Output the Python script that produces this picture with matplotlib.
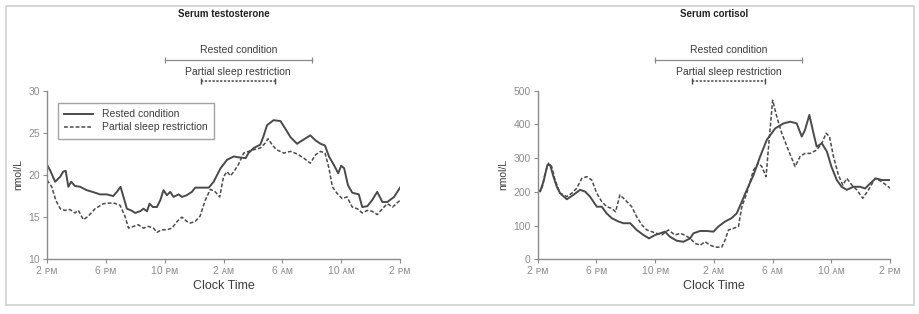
import numpy as np
import matplotlib.pyplot as plt
import matplotlib.transforms as mtransforms
from matplotlib.patches import Rectangle

plt.rcParams['font.family'] = ['Liberation Sans', 'DejaVu Sans']

# hours after 2 PM
hours_ticks = [0, 4, 8, 12, 16, 20, 24]
tick_labels = ['2 ᴘᴍ', '6 ᴘᴍ', '10 ᴘᴍ', '2 ᴀᴍ', '6 ᴀᴍ', '10 ᴀᴍ', '2 ᴘᴍ']

rested_sleep = [8, 18]
restricted_sleep = [10.5, 15.5]

# Serum testosterone, nmol/L
testo_rest_h = [0, 0.2, 0.55, 0.9, 1.1, 1.27, 1.45, 1.64, 1.9, 2.25, 2.7, 3.27, 3.6, 4.06,
                4.5, 4.75, 5.0, 5.2, 5.43, 5.72, 6.0, 6.33, 6.56, 6.8, 6.97, 7.2, 7.47,
                7.7, 7.92, 8.15, 8.38, 8.6, 8.95, 9.17, 9.5, 9.85, 10.08, 10.4, 11.0,
                11.33, 11.8, 12.24, 12.7, 13.0, 13.5, 13.7, 14.05, 14.5, 14.7, 14.96,
                15.4, 15.87, 16.2, 16.55, 17.0, 17.35, 17.9, 18.26, 18.6, 18.9, 19.17,
                19.5, 19.8, 20.0, 20.2, 20.46, 20.75, 21.2, 21.43, 21.78, 22.1, 22.45,
                22.8, 23.14, 23.6, 24]
testo_rest = [21.2, 20.6, 19.2, 19.8, 20.4, 20.5, 18.6, 19.2, 18.7, 18.6, 18.2, 17.9, 17.7,
              17.7, 17.5, 18.0, 18.6, 17.4, 16.0, 15.8, 15.5, 15.7, 16.0, 15.7, 16.6, 16.2,
              16.2, 17.0, 18.2, 17.6, 18.0, 17.4, 17.7, 17.4, 17.6, 18.0, 18.5, 18.5, 18.5,
              19.2, 20.8, 21.8, 22.2, 22.1, 22.0, 22.6, 23.2, 23.6, 24.5, 25.9, 26.5, 26.4,
              25.5, 24.5, 23.7, 24.1, 24.7, 24.1, 23.7, 23.5, 22.2, 21.2, 20.2, 21.1, 20.8,
              18.8, 17.9, 17.7, 16.2, 16.3, 17.0, 18.0, 16.8, 16.8, 17.4, 18.5]

testo_psr_h = [0, 0.32, 0.6, 0.9, 1.2, 1.56, 1.9, 2.13, 2.47, 2.8, 3.27, 3.84, 4.5, 4.97,
               5.3, 5.54, 5.88, 6.2, 6.56, 6.9, 7.24, 7.47, 7.8, 8.15, 8.5, 8.85, 9.17,
               9.5, 9.74, 10.08, 10.4, 10.76, 11.1, 11.44, 11.74, 12.0, 12.24, 12.47,
               12.7, 13.0, 13.37, 13.7, 14.05, 14.5, 14.85, 15.03, 15.3, 15.6, 16.1,
               16.55, 17.0, 17.46, 17.9, 18.26, 18.6, 18.9, 19.17, 19.4, 19.73, 20.07,
               20.4, 20.75, 21.1, 21.43, 21.78, 22.1, 22.45, 22.8, 23.14, 23.5, 24]
testo_psr = [19.4, 18.6, 17.0, 16.0, 15.8, 15.9, 15.5, 15.8, 14.7, 15.1, 16.0, 16.6, 16.7,
             16.4, 15.1, 13.7, 13.9, 14.1, 13.7, 13.9, 13.7, 13.2, 13.5, 13.5, 13.7, 14.5,
             15.0, 14.5, 14.3, 14.5, 15.1, 17.0, 18.3, 18.0, 17.4, 19.8, 20.4, 19.9, 20.4,
             21.2, 22.6, 22.8, 23.0, 23.2, 23.8, 24.3, 23.6, 23.0, 22.6, 22.8, 22.5, 22.0,
             21.4, 22.4, 22.8, 22.6, 20.8, 18.6, 17.8, 17.2, 17.4, 16.2, 16.0, 15.5, 15.8,
             15.7, 15.3, 16.0, 16.6, 16.2, 17.0]

# Serum cortisol, nmol/L
cort_rest_h = [0, 0.16, 0.39, 0.66, 0.84, 1.07, 1.3, 1.52, 1.98, 2.43, 2.88, 3.22, 3.56,
               4.02, 4.36, 4.7, 5.04, 5.5, 5.84, 6.3, 6.74, 7.2, 7.58, 7.99, 8.33, 8.67,
               9.0, 9.47, 9.92, 10.38, 10.6, 11.06, 11.5, 11.97, 12.3, 12.76, 13.2, 13.55,
               13.9, 14.24, 14.7, 15.15, 15.6, 16.17, 16.74, 17.2, 17.64, 17.98, 18.2,
               18.5, 18.78, 19.0, 19.35, 19.7, 20.0, 20.37, 20.7, 21.05, 21.5, 21.96,
               22.3, 22.64, 23.03, 23.44, 24]
cort_rest = [206, 201, 230, 280, 280, 245, 215, 196, 178, 191, 206, 201, 186, 156, 156, 136,
             122, 112, 107, 107, 87, 72, 62, 72, 77, 82, 67, 55, 52, 62, 77, 84, 84, 82, 97,
             112, 122, 136, 171, 206, 250, 305, 354, 388, 403, 408, 403, 364, 383, 428, 374,
             334, 344, 319, 275, 235, 215, 206, 215, 215, 210, 225, 240, 235, 235]

cort_psr_h = [0, 0.27, 0.5, 0.73, 0.95, 1.18, 1.52, 1.98, 2.32, 2.66, 3.0, 3.34, 3.68, 4.02,
              4.36, 4.7, 5.04, 5.3, 5.6, 5.84, 6.18, 6.4, 6.74, 7.09, 7.43, 7.76, 8.1,
              8.44, 8.9, 9.35, 9.7, 10.0, 10.38, 10.72, 11.06, 11.4, 11.74, 12.08, 12.53,
              12.76, 12.99, 13.33, 13.67, 13.9, 14.24, 14.46, 14.7, 15.03, 15.26, 15.55,
              15.78, 16.0, 16.28, 16.62, 17.07, 17.53, 17.87, 18.2, 18.55, 19.0, 19.35,
              19.64, 19.87, 20.14, 20.48, 20.78, 21.05, 21.4, 21.73, 22.14, 22.53, 22.98,
              23.44, 24]
cort_psr = [201, 206, 255, 285, 275, 235, 196, 186, 196, 211, 240, 245, 235, 196, 171, 156,
            151, 141, 191, 181, 166, 156, 126, 102, 87, 82, 77, 72, 87, 72, 77, 72, 62, 47,
            42, 52, 42, 36, 36, 57, 87, 92, 97, 156, 196, 230, 265, 285, 275, 245, 364, 472,
            423, 374, 324, 275, 305, 314, 314, 324, 344, 374, 364, 305, 250, 220, 240, 220,
            206, 181, 206, 240, 230, 211]

line_col = '#4a4a4a'
axis_col = '#8c8c8c'
text_col = '#3c3c3c'

fig = plt.figure(figsize=(9.2, 3.14), dpi=100)
fig.patches.append(Rectangle((0.006, 0.029), 0.988, 0.952, transform=fig.transFigure,
                             fill=False, edgecolor='#d0d0d0', linewidth=1.2))

ax1 = fig.add_axes([0.0511, 0.1742, 0.3837, 0.537])
ax2 = fig.add_axes([0.5845, 0.1742, 0.3830, 0.537])

panels = [
    (ax1, 'Serum testosterone', testo_rest_h, testo_rest, testo_psr_h, testo_psr, (10, 30), np.arange(10, 31, 5)),
    (ax2, 'Serum cortisol', cort_rest_h, cort_rest, cort_psr_h, cort_psr, (0, 500), np.arange(0, 501, 100)),
]

for ax, title, rh, rv, ph, pv, ylim, yticks in panels:
    ax.plot(rh, rv, color=line_col, lw=1.4, label='Rested condition')
    ax.plot(ph, pv, color=line_col, lw=1.1, dashes=(2.5, 1.3), label='Partial sleep restriction')
    ax.set_xlim(0, 24)
    ax.set_ylim(*ylim)
    ax.set_xticks(hours_ticks)
    ax.set_xticklabels(tick_labels, fontsize=7.5, color=text_col)
    ax.set_yticks(yticks)
    ax.tick_params(axis='y', labelsize=7.5, labelcolor=text_col)
    ax.tick_params(colors=axis_col, length=3, width=0.8, pad=2)
    for s in ['top', 'right']:
        ax.spines[s].set_visible(False)
    for s in ['left', 'bottom']:
        ax.spines[s].set_color(axis_col)
        ax.spines[s].set_linewidth(1.0)
    ax.set_xlabel('Clock Time', fontsize=9, color=text_col, labelpad=3)
    ax.set_ylabel('nmol/L', fontsize=7.5, color=text_col, labelpad=4)
    ax.text(0.5, 1.455, title, transform=ax.transAxes, ha='center', va='center',
            fontsize=7, color='#222222', fontweight='bold')

    trans = mtransforms.blended_transform_factory(ax.transData, ax.transAxes)
    mid = (rested_sleep[0] + rested_sleep[1]) / 2
    ax.text(mid, 1.241, 'Rested condition', transform=trans, ha='center', va='center',
            fontsize=7.5, color=text_col)
    ax.plot(rested_sleep, [1.182, 1.182], transform=trans, clip_on=False, color='#8a8a8a',
            lw=0.9, marker='|', ms=5, mew=0.9)
    ax.text(mid, 1.111, 'Partial sleep restriction', transform=trans, ha='center', va='center',
            fontsize=7.5, color=text_col)
    ax.plot(restricted_sleep, [1.058, 1.058], transform=trans, clip_on=False, color=line_col,
            lw=1.1, dashes=(1.5, 1.0), marker='|', ms=5, mew=1.0)

leg = ax1.legend(loc='upper left', bbox_to_anchor=(0.031, 0.927), borderaxespad=0,
                 fancybox=False, fontsize=7.5, handlelength=2.8, labelcolor=text_col,
                 borderpad=0.6, labelspacing=0.3)
leg.get_frame().set_edgecolor(axis_col)
leg.get_frame().set_linewidth(1.0)

fig.savefig('out.png', dpi=100)
